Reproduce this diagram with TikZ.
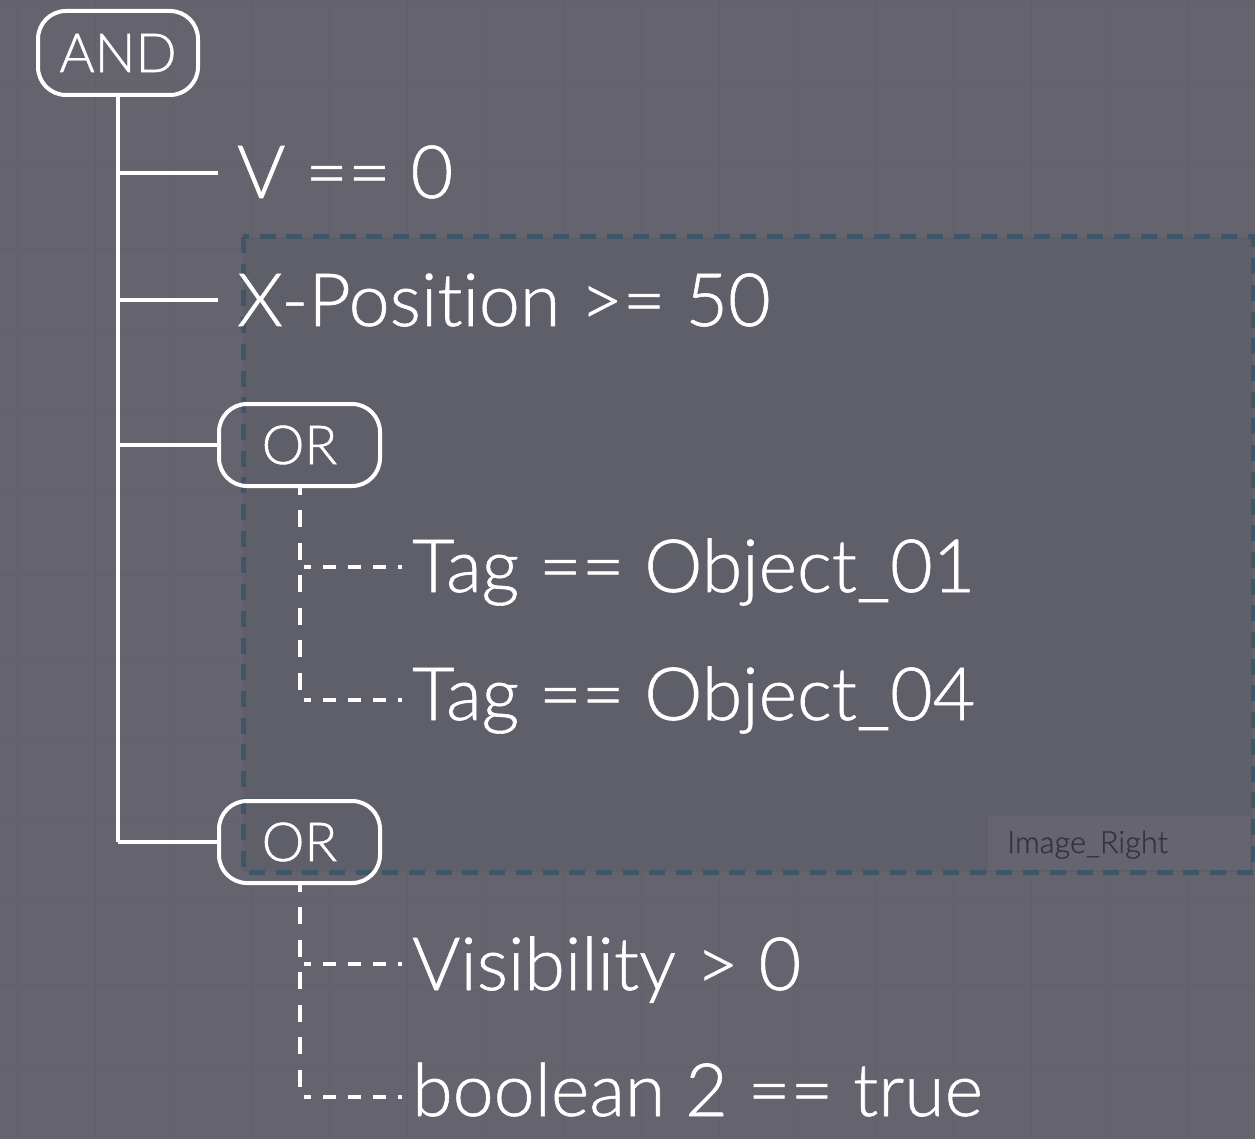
\documentclass[tikz,border=0pt]{standalone}
\usepackage{fontspec}
\IfFontExistsTF{Lato Light}{\setmainfont[Ligatures=NoCommon,FakeBold=0.8]{Lato Light}}{\setmainfont[Ligatures=NoCommon]{Lato}}
\definecolor{bgc}{RGB}{100,99,110}
\definecolor{gridc}{RGB}{96,95,106}
\definecolor{insidec}{RGB}{95,95,105}
\definecolor{rectc}{RGB}{62,87,104}
\definecolor{labelbg}{RGB}{101,100,111}
\definecolor{labeltext}{RGB}{52,52,62}
\tikzset{
  gate/.style={draw=white, line width=4pt, rounded corners=28pt, inner sep=0pt,
    text=white, font=\fontsize{54}{54}\selectfont},
  term/.style={inner sep=0pt, text=white, font=\fontsize{73.5}{73.5}\selectfont, anchor=base west},
  conn/.style={draw=white, line width=4pt},
  vconn/.style={draw=white, line width=4pt, dash pattern=on 17pt off 15.5pt, dash phase=10.5pt},
  hconn/.style={draw=white, line width=4pt, dash pattern=on 13pt off 12pt, dash phase=6pt},
  gridline/.style={draw=gridc, line width=1pt},
  region/.style={draw=rectc, line width=5pt, dash pattern=on 16pt off 10.7pt, fill=insidec}
}
\begin{document}
\begin{tikzpicture}[x=1pt,y=-1pt]
\useasboundingbox (0,0) rectangle (1255,1139);
\fill[bgc] (0,0) rectangle (1255,1139);
\foreach \i in {0,...,15} \draw[gridline] ({17+78*\i},0) -- ({17+78*\i},1139);
\foreach \j in {0,...,13} \draw[gridline] (0,{3+81.8*\j}) -- (1255,{3+81.8*\j});
% image region
\path[region] (243,237) rectangle (1253,872);
\node (lblbox) [fill=labelbg, minimum width=262pt, minimum height=54pt, inner sep=0pt, anchor=north west] at (988,816) {};
\node (lbl) [anchor=base west, inner sep=0pt, text=labeltext, font=\fontsize{30.7}{30.7}\selectfont] at (1007,853) {Image\_Right};
% gates
\node[gate, minimum width=160pt, minimum height=84pt] (and) at (118,53) {AND};
\node[gate, minimum width=161pt, minimum height=82pt] (or1) at (299.5,445) {OR};
\node[gate, minimum width=161pt, minimum height=82pt] (or2) at (299.5,842) {OR};
% terms
\node[term, inner xsep=19pt] (t1) at (218,198) {V == 0};
\node[term, inner xsep=19pt] (t2) at (218,326) {X-Position >= 50};
\node[term, inner xsep=10pt] (t3) at (402,592) {Tag == Object\_01};
\node[term, inner xsep=10pt] (t4) at (402,720) {Tag == Object\_04};
\node[term, inner xsep=10pt] (t5) at (402,990) {Visibility > 0};
\node[term, inner xsep=10pt] (t6) at (402,1116) {boolean 2 == true};
% trunk
\coordinate (j1) at (118,173);
\coordinate (j2) at (118,300);
\coordinate (j3) at (118,445);
\coordinate (j4) at (118,842);
\draw[conn] (and.south) -- (j4);
\draw[conn] (j1) -- (j1 -| t1.west);
\draw[conn] (j2) -- (j2 -| t2.west);
\draw[conn] (j3) -- (or1.west);
\draw[conn] (j4) -- (or2.west);
% dashed children
\coordinate (v1) at (299.5,699);
\coordinate (h1) at (304,567);
\coordinate (h2) at (304,700);
\coordinate (v2) at (299.5,1096);
\coordinate (h3) at (304,964);
\coordinate (h4) at (304,1097);
\draw[vconn] (or1.south) -- (v1);
\draw[hconn] (h1) -- (h1 -| t3.west);
\draw[hconn] (h2) -- (h2 -| t4.west);
\draw[vconn] (or2.south) -- (v2);
\draw[hconn] (h3) -- (h3 -| t5.west);
\draw[hconn] (h4) -- (h4 -| t6.west);
\end{tikzpicture}
\end{document}
